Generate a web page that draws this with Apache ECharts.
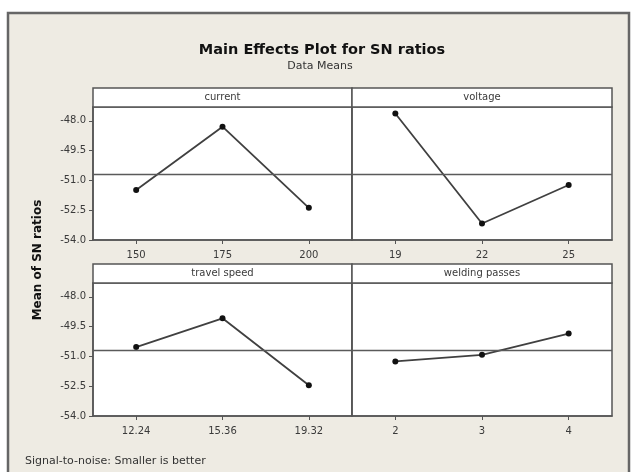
<!DOCTYPE html>
<html>
<head>
<meta charset="utf-8">
<script src="https://cdn.jsdelivr.net/npm/echarts@6/dist/echarts.min.js"></script>
<style>
html,body{margin:0;padding:0;background:#fff;}
#chart{width:638px;height:472px;}
</style>
</head>
<body>
<div id="chart"></div>
<script>
// ---- data ----
const factorNames = ['current', 'voltage', 'travel speed', 'welding passes'];
const currentLevels = ['150', '175', '200'];
const currentSN = [-51.48, -48.29, -52.38];
const voltageLevels = ['19', '22', '25'];
const voltageSN = [-47.63, -53.17, -51.23];
const speedLevels = ['12.24', '15.36', '19.32'];
const speedSN = [-50.53, -49.08, -52.45];
const passesLevels = ['2', '3', '4'];
const passesSN = [-51.25, -50.92, -49.85];
const grandMean = -50.7;
const yTickValues = [-54, -52.5, -51, -49.5, -48];

const levelsList = [currentLevels, voltageLevels, speedLevels, passesLevels];
const valuesList = [currentSN, voltageSN, speedSN, passesSN];

// ---- layout ----
const panels = [
  {left: 93, top: 107, width: 259, height: 133, hdrTop: 88},
  {left: 352, top: 107, width: 260, height: 133, hdrTop: 88},
  {left: 93, top: 283, width: 259, height: 133, hdrTop: 264},
  {left: 352, top: 283, width: 260, height: 133, hdrTop: 264}
];
const FONT = 'DejaVu Sans';
const textColor = '#3a3a3a';
const frameColor = '#555555';

const chart = echarts.init(document.getElementById('chart'), null, {renderer: 'canvas'});

const grids = [], xAxes = [], yAxes = [], series = [];
panels.forEach((p, i) => {
  grids.push({left: p.left, top: p.top, width: p.width, height: p.height,
    show: true, backgroundColor: '#ffffff', borderColor: frameColor, borderWidth: 1.5,
    containLabel: false});
  xAxes.push({type: 'category', gridIndex: i, data: levelsList[i], boundaryGap: true,
    axisLine: {show: true, lineStyle: {color: frameColor, width: 1.5}},
    axisTick: {show: true, alignWithLabel: true, length: 4, lineStyle: {color: frameColor}},
    axisLabel: {color: textColor, fontFamily: FONT, fontSize: 10, margin: 10},
    splitLine: {show: false}});
  const isLeft = (i % 2 === 0);
  yAxes.push({type: 'value', gridIndex: i, min: -54, max: -47.3,
    axisLine: {show: true, lineStyle: {color: frameColor, width: 1.5}},
    axisTick: {show: isLeft, length: 4, customValues: yTickValues, lineStyle: {color: frameColor}},
    axisLabel: {show: isLeft, customValues: yTickValues, color: textColor, fontFamily: FONT, fontSize: 10,
      margin: 7, formatter: v => v.toFixed(1)},
    splitLine: {show: false}});
  series.push({type: 'line', xAxisIndex: i, yAxisIndex: i, data: valuesList[i],
    symbol: 'circle', symbolSize: 6,
    lineStyle: {color: '#404040', width: 1.8},
    itemStyle: {color: '#111'},
    silent: true, animation: false,
    markLine: {silent: true, symbol: 'none', label: {show: false},
      lineStyle: {color: '#5a5a5a', width: 1.3, type: 'solid'},
      data: [{yAxis: grandMean}]}});
});

const graphics = [
  {type: 'rect', shape: {x: 8, y: 13, width: 621, height: 470},
    style: {fill: '#eeebe3', stroke: '#666666', lineWidth: 2.5}, z: -10},
  {type: 'text', x: 322, y: 50, style: {text: 'Main Effects Plot for SN ratios', font: 'bold 14.5px ' + FONT,
    fill: '#111', textAlign: 'center', textVerticalAlign: 'middle'}},
  {type: 'text', x: 320, y: 66, style: {text: 'Data Means', font: '11px ' + FONT,
    fill: '#333', textAlign: 'center', textVerticalAlign: 'middle'}},
  {type: 'text', x: 38, y: 260, rotation: Math.PI / 2, style: {text: 'Mean of SN ratios', font: 'bold 12px ' + FONT,
    fill: '#111', textAlign: 'center', textVerticalAlign: 'middle'}},
  {type: 'text', x: 25, y: 461, style: {text: 'Signal-to-noise: Smaller is better', font: '11px ' + FONT,
    fill: '#333', textAlign: 'left', textVerticalAlign: 'middle'}}
];
panels.forEach((p, i) => {
  graphics.push({type: 'rect', shape: {x: p.left, y: p.hdrTop, width: p.width, height: p.top - p.hdrTop},
    style: {fill: '#ffffff', stroke: frameColor, lineWidth: 1.5}, z: 5});
  graphics.push({type: 'text', x: p.left + p.width / 2, y: (p.hdrTop + p.top) / 2,
    style: {text: factorNames[i], font: '10px ' + FONT, fill: textColor,
      textAlign: 'center', textVerticalAlign: 'middle'}, z: 6});
});

chart.setOption({
  backgroundColor: '#ffffff',
  animation: false,
  grid: grids,
  xAxis: xAxes,
  yAxis: yAxes,
  series: series,
  graphic: graphics
});
</script>
</body>
</html>
